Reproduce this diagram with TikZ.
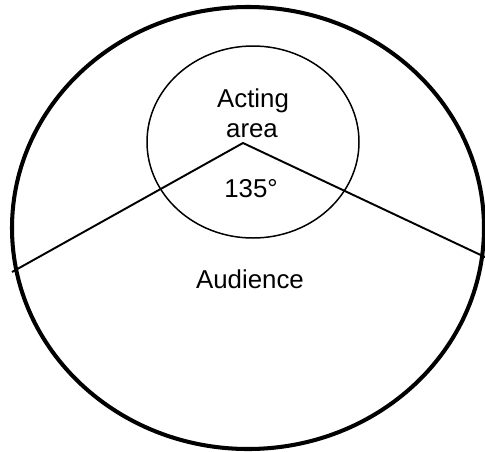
\documentclass[tikz,border=0pt]{standalone}
\usepackage{fontspec}
\setmainfont{Liberation Sans}
\tikzset{
  label text/.style={font=\fontsize{14.7}{17.6}\selectfont, inner sep=0pt, anchor=base},
}
\begin{document}
\begin{tikzpicture}
        \useasboundingbox (0,0) rectangle (9.7,9.02);
        \clip (0,0) rectangle (9.7,9.02);
        % Audience (outer circle)
        \draw[line width=2.3pt] (4.96,4.46) ellipse (4.72 and 4.42);
        % Acting area (inner circle)
        \draw[line width=0.85pt] (5.06,6.18) ellipse (2.12 and 1.92);
        % Sight lines
        \coordinate (apex) at (4.86,6.16);
        \coordinate (left end) at (0.24,3.58);
        \coordinate (right end) at (9.72,3.87);
        \draw[line width=1.1pt, line join=miter] (left end) -- (apex) -- (right end);
        % Labels
        \node[label text] (acting) at (5.06,6.88) {Acting};
        \node[label text] (area) at (5.04,6.28) {area};
        \node[label text] (angle) at (5.02,5.08) {135°};
        \node[label text] (audience) at (5.0,3.26) {Audience};
    \end{tikzpicture}
\end{document}
